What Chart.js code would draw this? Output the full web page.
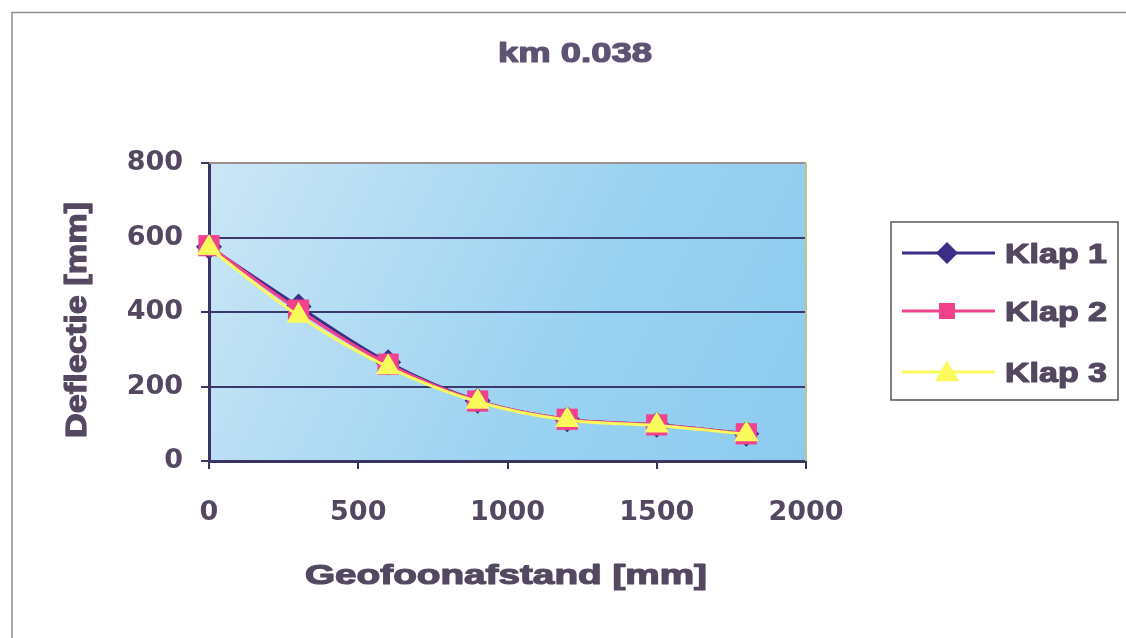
<!DOCTYPE html>
<html>
<head>
<meta charset="utf-8">
<script src="https://cdn.jsdelivr.net/npm/chart.js@4/dist/chart.umd.min.js"></script>
<style>
  html, body { margin: 0; padding: 0; background: #fff; }
  canvas { display: block; }
</style>
</head>
<body>
<canvas id="chart" width="1126" height="638"></canvas>
<script>
// data
const geofoonAfstand = [0, 300, 600, 900, 1200, 1500, 1800];
const klap1 = [575, 415, 265, 162, 112, 97, 73];
const klap2 = [578, 405, 260, 161, 112, 97, 73];
const klap3 = [572, 390, 252, 159, 110, 95, 72];
const seriesNames = ['Klap 1', 'Klap 2', 'Klap 3'];
const xTicks = [0, 500, 1000, 1500, 2000];
const yTicks = [0, 200, 400, 600, 800];

const COLORS = {
  klap1: '#3c2e86',
  klap2: '#f2428e',
  klap3: '#fbfa5c',
  text: '#544860',
  title: '#5f5374',
  grid: '#3b386c',
  axis: '#3a3560',
};

const TICK_FONT = { family: '"DejaVu Sans", sans-serif', size: 27, weight: 'bold' };

function toPoints(values) {
  return values.map((v, i) => ({ x: geofoonAfstand[i], y: v }));
}

// heavy text stretched to a measured width
function fillFit(ctx, text, x, y, size, width, rot, align) {
  ctx.save();
  ctx.font = `bold ${size}px "Liberation Sans", Arial, sans-serif`;
  const w = ctx.measureText(text).width;
  ctx.translate(x, y);
  if (rot) ctx.rotate(rot);
  ctx.scale(width / w, 1);
  ctx.textAlign = align || 'center';
  ctx.textBaseline = 'alphabetic';
  ctx.strokeStyle = ctx.fillStyle;
  ctx.lineWidth = 1.2;
  ctx.lineJoin = 'round';
  ctx.fillText(text, 0, 0);
  ctx.strokeText(text, 0, 0);
  ctx.restore();
}

function drawMarker(ctx, style, x, y, r, color) {
  ctx.save();
  ctx.fillStyle = color;
  ctx.beginPath();
  if (style === 'rectRot') {
    ctx.moveTo(x, y - r); ctx.lineTo(x + r, y); ctx.lineTo(x, y + r); ctx.lineTo(x - r, y);
  } else if (style === 'rect') {
    ctx.rect(x - r, y - r, 2 * r, 2 * r);
  } else {
    ctx.moveTo(x, y - r * 1.05); ctx.lineTo(x + r * 1.1, y + r * 0.85); ctx.lineTo(x - r * 1.1, y + r * 0.85);
  }
  ctx.closePath();
  ctx.fill();
  ctx.restore();
}

const backgroundPlugin = {
  id: 'plotBackground',
  beforeDraw(chart) {
    const { ctx, chartArea: a } = chart;
    ctx.save();
    ctx.fillStyle = '#fff';
    ctx.fillRect(0, 0, chart.width, chart.height);
    const g = ctx.createLinearGradient(a.left, a.top, a.right, a.bottom);
    g.addColorStop(0, '#cbe6f6');
    g.addColorStop(0.6, '#9ad2f1');
    g.addColorStop(1, '#8ccbef');
    ctx.fillStyle = g;
    ctx.fillRect(a.left, a.top, a.right - a.left, a.bottom - a.top);
    ctx.restore();
  },
  afterDraw(chart) {
    const { ctx, chartArea: a } = chart;
    ctx.save();
    // outer frame
    ctx.strokeStyle = '#8e8e8e';
    ctx.lineWidth = 1.5;
    ctx.beginPath();
    ctx.moveTo(12, 638); ctx.lineTo(12, 12.5); ctx.lineTo(1126, 12.5);
    ctx.stroke();

    // plot top / right edge
    ctx.lineWidth = 2;
    ctx.strokeStyle = '#9c918c';
    ctx.beginPath(); ctx.moveTo(a.left, a.top); ctx.lineTo(a.right, a.top); ctx.stroke();
    ctx.strokeStyle = '#c4c08a';
    ctx.beginPath(); ctx.moveTo(a.right, a.top); ctx.lineTo(a.right, a.bottom); ctx.stroke();

    // titles
    ctx.fillStyle = COLORS.title;
    fillFit(ctx, 'km 0.038', 575, 62, 27, 154);
    ctx.fillStyle = COLORS.text;
    fillFit(ctx, 'Geofoonafstand [mm]', 506, 584, 27, 402);
    fillFit(ctx, 'Deflectie [mm]', 86, 320, 30, 236, -Math.PI / 2);

    // legend
    ctx.strokeStyle = '#555';
    ctx.lineWidth = 1.5;
    ctx.strokeRect(891, 222, 227, 178);
    const rows = [253, 311, 372];
    chart.data.datasets.forEach((ds, i) => {
      const y = rows[i];
      ctx.strokeStyle = ds.borderColor;
      ctx.lineWidth = 3;
      ctx.beginPath(); ctx.moveTo(902, y); ctx.lineTo(995, y); ctx.stroke();
      const r = ds.pointStyle === 'rect' ? 8 : 11;
      drawMarker(ctx, ds.pointStyle, 947, y, r, ds.pointBackgroundColor);
      ctx.fillStyle = COLORS.text;
      fillFit(ctx, ds.label, 1005, y + 10, 28, 102, 0, 'left');
    });
    ctx.restore();
  },
};

function dataset(label, values, color, style, radius, order) {
  return {
    label,
    data: toPoints(values),
    borderColor: color,
    backgroundColor: color,
    pointBackgroundColor: color,
    pointBorderWidth: 0,
    pointStyle: style,
    pointRadius: radius,
    pointHoverRadius: radius,
    borderWidth: 3,
    tension: 0.35,
    clip: false,
    order,
  };
}

new Chart(document.getElementById('chart'), {
  type: 'line',
  data: {
    datasets: [
      dataset(seriesNames[0], klap1, COLORS.klap1, 'rectRot', 13, 3),
      dataset(seriesNames[1], klap2, COLORS.klap2, 'rect', 15, 2),
      dataset(seriesNames[2], klap3, COLORS.klap3, 'triangle', 14, 1),
    ],
  },
  options: {
    responsive: false,
    animation: false,
    events: [],
    layout: { padding: { left: 0, top: 163, right: 320, bottom: 0 } },
    plugins: {
      legend: { display: false },
      title: { display: false },
      tooltip: { enabled: false },
    },
    scales: {
      x: {
        type: 'linear',
        min: 0,
        max: 2000,
        afterBuildTicks: (s) => { s.ticks = xTicks.map((v) => ({ value: v })); },
        afterFit: (s) => { s.height = 638 - 461; },
        grid: { drawOnChartArea: false, drawTicks: true, tickLength: 8, color: COLORS.axis, lineWidth: 2 },
        border: { color: COLORS.axis, width: 3 },
        ticks: { color: COLORS.text, font: TICK_FONT, padding: 28, maxRotation: 0, callback: (v) => String(v) },
      },
      y: {
        min: 0,
        max: 800,
        afterBuildTicks: (s) => { s.ticks = yTicks.map((v) => ({ value: v })); },
        afterFit: (s) => { s.width = 209; },
        grid: {
          color: (c) => (c.tick && c.tick.value === 800 ? 'rgba(0,0,0,0)' : COLORS.grid),
          tickColor: COLORS.axis,
          lineWidth: 2,
          tickLength: 8,
        },
        border: { color: COLORS.axis, width: 3 },
        ticks: { color: COLORS.text, font: TICK_FONT, padding: 18, callback: (v) => String(v) },
      },
    },
  },
  plugins: [backgroundPlugin],
});
</script>
</body>
</html>
